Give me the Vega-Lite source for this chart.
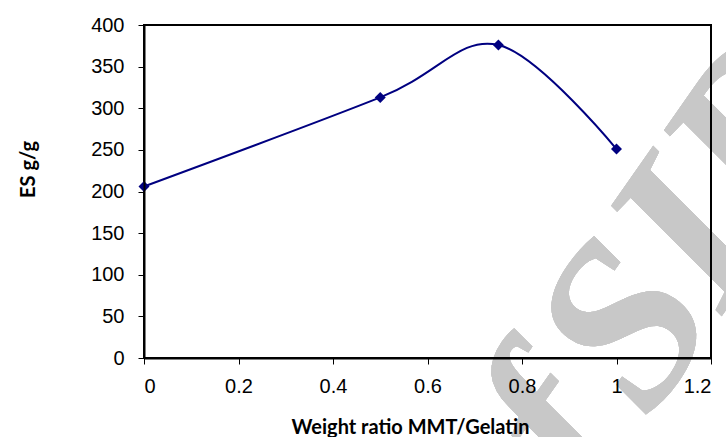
{
  "$schema": "https://vega.github.io/schema/vega-lite/v6.json",
  "width": 567,
  "height": 333,
  "autosize": "none",
  "padding": {"left": 144, "top": 25, "right": 15, "bottom": 79},
  "background": "white",
  "data": {"values": [
    {"ratio": 0, "es": 206},
    {"ratio": 0.5, "es": 313},
    {"ratio": 0.75, "es": 376},
    {"ratio": 1, "es": 251}
  ]},
  "config": {
    "view": {"stroke": null},
    "axis": {
      "zindex": 1,
      "grid": false,
      "domainColor": "#000",
      "domainWidth": 2,
      "tickColor": "#000",
      "tickWidth": 1,
      "tickSize": 6,
      "labelFont": "Liberation Sans",
      "labelFontSize": 20,
      "labelColor": "#000",
      "titleFont": "Lato",
      "titleFontWeight": "bold",
      "titleColor": "#000"
    }
  },
  "layer": [
    {
      "mark": {"type": "text", "text": "SID", "angle": -55, "align": "left", "baseline": "alphabetic", "font": "Liberation Serif", "fontStyle": "italic", "fontWeight": "bold", "fontSize": 235, "color": "#c8c8c8"},
      "encoding": {
        "x": {"datum": 1.067, "type": "quantitative", "scale": {"domain": [0, 1.2], "nice": false},
          "axis": {"orient": "bottom", "zindex": 1, "title": "Weight ratio MMT/Gelatin", "values": [0, 0.2, 0.4, 0.6, 0.8, 1, 1.2], "labelExpr": "'' + datum.value", "labelPadding": 12, "titleFontSize": 20, "titleX": 266, "titleY": 75, "titleAlign": "center", "titleBaseline": "alphabetic"}},
        "y": {"datum": -76, "type": "quantitative", "scale": {"domain": [0, 400], "nice": false},
          "axis": {"orient": "left", "zindex": 1, "title": "ES g/g", "values": [0, 50, 100, 150, 200, 250, 300, 350, 400], "labelPadding": 14, "titleFontSize": 20, "titleAngle": -90, "titleX": -110, "titleY": 144, "titleAlign": "center", "titleBaseline": "alphabetic"}}
      }
    },
    {
      "mark": {"type": "text", "text": "Archive of", "angle": -55, "align": "right", "baseline": "alphabetic", "dx": -20, "font": "Liberation Serif", "fontStyle": "italic", "fontWeight": "bold", "fontSize": 235, "color": "#c8c8c8"},
      "encoding": {
        "x": {"datum": 1.067, "type": "quantitative"},
        "y": {"datum": -76, "type": "quantitative"}
      }
    },
    {
      "mark": {"type": "rect", "fill": null, "fillOpacity": 0, "stroke": "#000", "strokeWidth": 2},
      "encoding": {
        "x": {"datum": 0, "type": "quantitative"},
        "x2": {"datum": 1.2},
        "y": {"datum": 0, "type": "quantitative"},
        "y2": {"datum": 400}
      }
    },
    {
      "mark": {"type": "line", "interpolate": "cardinal", "color": "#000080", "strokeWidth": 2},
      "encoding": {
        "x": {"field": "ratio", "type": "quantitative"},
        "y": {"field": "es", "type": "quantitative"}
      }
    },
    {
      "mark": {"type": "point", "shape": "diamond", "filled": true, "size": 120, "color": "#000080", "opacity": 1},
      "encoding": {
        "x": {"field": "ratio", "type": "quantitative"},
        "y": {"field": "es", "type": "quantitative"}
      }
    }
  ]
}
